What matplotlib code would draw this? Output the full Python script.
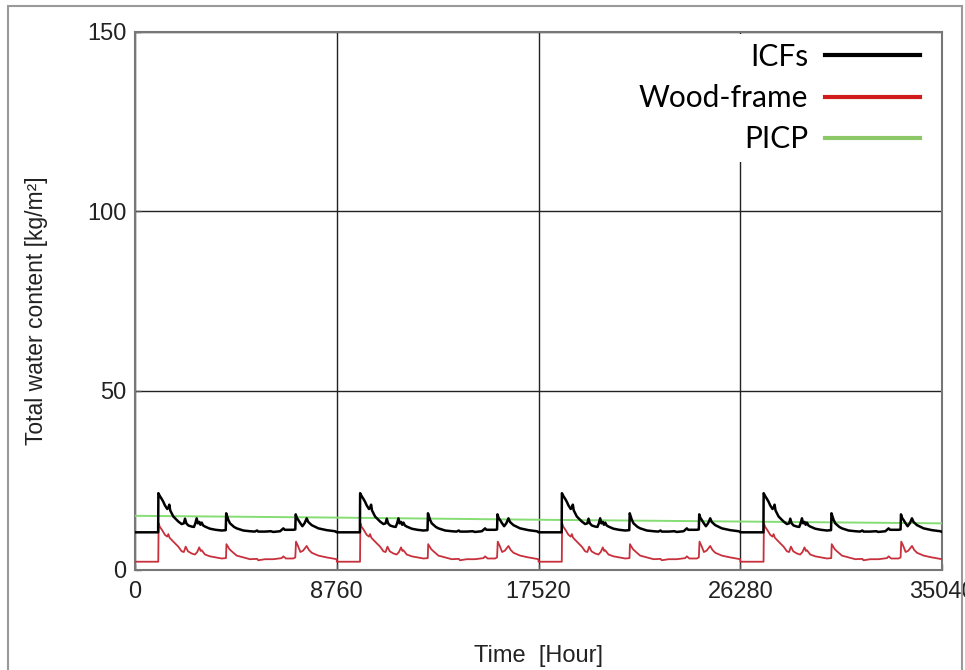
import numpy as np
import matplotlib
matplotlib.use("Agg")
import matplotlib.pyplot as plt
from matplotlib.patches import Rectangle

plt.rcParams["font.family"] = ["Liberation Sans", "DejaVu Sans"]

# one simulated year (hours into the year) repeated for the 4-year run
YEAR_HOURS = 8760
N_YEARS = 4

icf_hours = [0, 1005, 1015, 1080, 1160, 1230, 1300, 1400, 1450, 1490, 1530, 1664,
             1800, 1881, 2026, 2120, 2171, 2230, 2316, 2460, 2560, 2620, 2677, 2730,
             2793, 2840, 2895, 2960, 3040, 3257, 3500, 3763, 3940, 3960, 4050, 4125,
             4300, 4415, 4704, 4994, 5200, 5300, 5350, 5644, 5900, 6000, 6300, 6368,
             6441, 6500, 6875, 6960, 6977, 7030, 7093, 7180, 7267, 7360, 7455, 7520,
             7672, 7961, 8323, 8685, 8760]
icf_water = [10.5, 10.5, 21.4, 20.6, 19.8, 19.0, 18.0, 17.0, 17.4, 18.2, 16.6, 14.9,
             14.0, 13.5, 12.8, 13.0, 14.3, 13.0, 12.4, 12.1, 12.0, 13.0, 14.4, 13.0,
             13.4, 12.6, 13.2, 12.4, 12.1, 11.5, 11.2, 11.0, 11.1, 15.8, 14.0, 13.0,
             12.0, 11.6, 11.0, 10.8, 10.7, 11.0, 10.7, 10.7, 10.8, 10.6, 10.8, 11.2,
             11.6, 11.2, 11.2, 11.3, 15.5, 14.5, 13.9, 13.0, 12.2, 13.0, 14.4, 13.4,
             12.5, 11.6, 11.1, 10.8, 10.6]

wood_hours = [0, 1010, 1025, 1080, 1158, 1300, 1400, 1447, 1500, 1664, 1881, 2026,
              2120, 2200, 2300, 2460, 2600, 2700, 2790, 2850, 2895, 3040, 3257, 3763,
              3950, 3970, 4100, 4200, 4415, 4994, 5300, 5350, 5644, 6000, 6368, 6441,
              6550, 6875, 6960, 6990, 7070, 7180, 7300, 7455, 7550, 7672, 7961, 8323,
              8685, 8760]
wood_water = [2.3, 2.3, 13.0, 12.0, 11.3, 9.8, 9.3, 10.0, 9.0, 7.9, 6.5, 5.2,
              5.0, 6.5, 5.2, 4.6, 4.3, 5.0, 6.3, 5.3, 5.5, 4.3, 3.8, 3.2,
              3.3, 7.2, 5.8, 5.2, 4.0, 3.0, 3.1, 2.7, 3.0, 3.0, 3.3, 3.8,
              3.2, 3.2, 3.5, 7.9, 6.8, 5.0, 5.4, 6.7, 5.6, 4.8, 4.0, 3.5,
              3.1, 3.0]

picp_hours = [0, 8760, 17520, 26280, 35040]
picp_water = [15.1, 14.6, 14.0, 13.5, 13.0]

x_ticks = [0, 8760, 17520, 26280, 35040]
y_ticks = [0, 50, 100, 150]


def repeat_years(hours, values):
    hours = np.asarray(hours, dtype=float)
    t = np.concatenate([hours + k * YEAR_HOURS for k in range(N_YEARS)])
    v = np.tile(np.asarray(values, dtype=float), N_YEARS)
    return t, v


fig = plt.figure(figsize=(9.65, 6.7), dpi=100)
ax = fig.add_axes([0.1399, 0.1493, 0.8363, 0.8030])

t_icf, v_icf = repeat_years(icf_hours, icf_water)
t_wood, v_wood = repeat_years(wood_hours, wood_water)

ax.plot(t_icf, v_icf, color="black", lw=1.8, label="ICFs", zorder=4)
ax.plot(t_wood, v_wood, color="#c8303c", lw=1.3, label="Wood-frame", zorder=3)
ax.plot(picp_hours, picp_water, color="#86dd74", lw=1.4, label="PICP", zorder=3)

ax.set_xlim(0, 35040)
ax.set_ylim(0, 150)
ax.set_xticks(x_ticks)
ax.set_yticks(y_ticks)
ax.tick_params(direction="in", length=4, width=1, colors="#555555",
               labelcolor="#222222", labelsize=17)
ax.tick_params(axis="x", pad=8)
ax.tick_params(axis="y", pad=6)
ax.grid(True, color="#222222", lw=1.0)
ax.set_axisbelow(True)
for spine in ax.spines.values():
    spine.set_color("#777777")
    spine.set_linewidth(1.5)

ax.set_ylabel("Total water content [kg/m²]", fontsize=16.5, color="#222222")
ax.yaxis.set_label_coords(-0.108, 0.481)
ax.set_xlabel("Time  [Hour]", fontsize=17, color="#222222", labelpad=30)

leg = ax.legend(loc="upper right", bbox_to_anchor=(0.984, 0.997), markerfirst=False,
                frameon=True, fancybox=False, framealpha=1, borderaxespad=0,
                borderpad=0.3, labelspacing=0.45, handlelength=3.2,
                handletextpad=0.55, prop={"family": ["Lato", "DejaVu Sans"], "size": 21.5})
leg.get_frame().set_edgecolor("none")
leg.get_frame().set_facecolor("white")
leg_colors = ["black", "#d01c1c", "#8cc868"]
for line, c in zip(leg.get_lines(), leg_colors):
    line.set_color(c)
    line.set_linewidth(3)

# gray frame around the whole figure
fig.patches.append(Rectangle((8 / 965, -0.02), 954 / 965, 1.02 - 6 / 670,
                             transform=fig.transFigure, fill=False,
                             edgecolor="#999999", lw=1.5, zorder=10))

fig.savefig("out.png", dpi=100)
